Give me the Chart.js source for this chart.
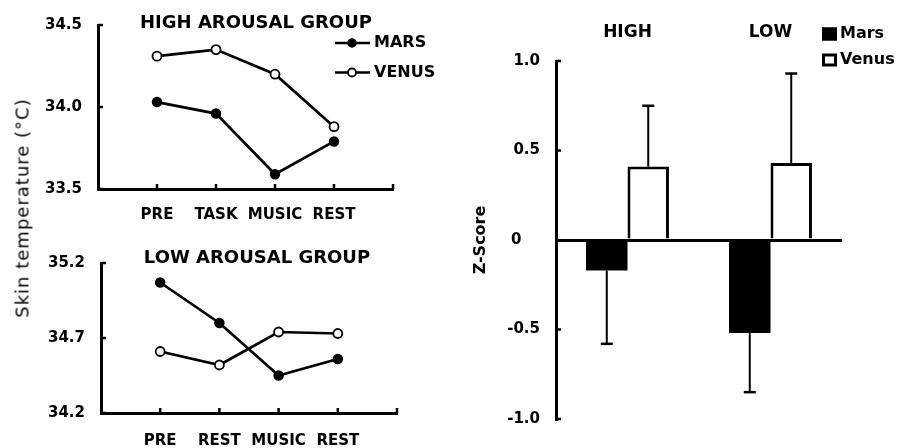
<!DOCTYPE html>
<html><head><meta charset="utf-8">
<script src="https://cdn.jsdelivr.net/npm/chart.js@4.4.1/dist/chart.umd.min.js"></script>
<style>
html,body{margin:0;padding:0;background:#fff;}
#wrap{position:relative;width:898px;height:448px;overflow:hidden;background:#fff;}
canvas{position:absolute;}
#ytitle{position:absolute;left:22px;top:208px;transform:translate(-50%,-50%) rotate(-90deg);white-space:nowrap;font:18px 'DejaVu Sans',sans-serif;letter-spacing:1px;color:#000;}
</style></head><body>
<div id="wrap">
<canvas id="cHigh" width="450" height="230" style="left:0;top:0;width:450px;height:230px"></canvas>
<canvas id="cLow" width="450" height="218" style="left:0;top:230px;width:450px;height:218px"></canvas>
<canvas id="cZ" width="448" height="448" style="left:450px;top:0;width:448px;height:448px"></canvas>
<div id="ytitle">Skin temperature (°C)</div>
</div>
<script>
// ---- data ----
const timeHigh = ['PRE', 'TASK', 'MUSIC', 'REST'];
const timeLow = ['PRE', 'REST', 'MUSIC', 'REST'];
const seriesUpper = ['MARS', 'VENUS'];
const seriesNames = ['Mars', 'Venus'];
const highMars = [34.03, 33.96, 33.59, 33.79];
const highVenus = [34.31, 34.35, 34.20, 33.88];
const lowMars = [35.07, 34.80, 34.45, 34.56];
const lowVenus = [34.61, 34.52, 34.74, 34.73];
const highTicks = [33.5, 34.0, 34.5];
const lowTicks = [34.2, 34.7, 35.2];
const groups = ['HIGH', 'LOW'];
const zMars = [-0.17, -0.52];
const zVenus = [0.41, 0.43];
const zMarsErr = [0.41, 0.33];
const zVenusErr = [0.34, 0.50];
const zTicks = [-1.0, -0.5, 0, 0.5, 1.0];

// ---- setup ----
const FAM = "'DejaVu Sans', sans-serif";
Chart.defaults.font.family = FAM;
Chart.defaults.color = '#000';
const BOLD = s => ({family: FAM, size: s, weight: 'bold'});

const inTicks = {
  id: 'inTicks',
  afterDraw(chart, args, o) {
    if (!o || !o.enabled) return;
    const ctx = chart.ctx, ca = chart.chartArea, len = o.len || 5;
    ctx.save(); ctx.strokeStyle = '#000'; ctx.lineWidth = o.width || 2.5;
    const ys = chart.scales.y;
    ys.ticks.forEach(t => {
      if (o.skipZero && t.value === 0) return;
      const p = ys.getPixelForValue(t.value);
      ctx.beginPath(); ctx.moveTo(ca.left, p); ctx.lineTo(ca.left + len, p); ctx.stroke();
    });
    if (o.xTicks) {
      const xs = chart.scales.x;
      xs.ticks.forEach((t, i) => {
        if (i === 0) return;
        const p = xs.getPixelForTick(i);
        ctx.beginPath(); ctx.moveTo(p, ca.bottom); ctx.lineTo(p, ca.bottom - len); ctx.stroke();
      });
    }
    ctx.restore();
  }
};

const panelText = {
  id: 'panelText',
  afterDraw(chart, args, o) {
    if (!o || !o.items) return;
    const ctx = chart.ctx; ctx.save(); ctx.fillStyle = '#000'; ctx.textBaseline = 'middle';
    o.items.forEach(it => {
      ctx.font = 'bold ' + it.size + 'px ' + FAM; ctx.textAlign = it.align || 'center';
      ctx.fillText(it.text, it.x, it.y);
    });
    ctx.restore();
  }
};

const keyLegend = {
  id: 'keyLegend',
  afterDraw(chart, args, o) {
    if (!o || !o.kind) return;
    const ctx = chart.ctx; ctx.save();
    chart.data.datasets.forEach((ds, i) => {
      const y = o.y + i * o.gap;
      ctx.strokeStyle = '#000'; ctx.fillStyle = '#000';
      if (o.kind === 'line') {
        ctx.lineWidth = ds.borderWidth;
        ctx.beginPath(); ctx.moveTo(o.x0, y); ctx.lineTo(o.x1, y); ctx.stroke();
        ctx.beginPath(); ctx.arc(o.xm, y, o.r, 0, Math.PI * 2);
        ctx.fillStyle = ds.pointBackgroundColor; ctx.fill();
        ctx.lineWidth = ds.pointBorderWidth; ctx.strokeStyle = ds.pointBorderColor; ctx.stroke();
      } else {
        const w = o.box[0], h = o.box[1];
        ctx.fillStyle = ds.backgroundColor; ctx.fillRect(o.x0, y - h / 2, w, h);
        ctx.lineWidth = o.bw; ctx.strokeStyle = '#000';
        ctx.strokeRect(o.x0 + o.bw / 2, y - h / 2 + o.bw / 2, w - o.bw, h - o.bw);
      }
      ctx.fillStyle = '#000'; ctx.font = 'bold ' + o.size + 'px ' + FAM;
      ctx.textAlign = 'left'; ctx.textBaseline = 'middle';
      ctx.fillText(ds.label, o.tx, y);
    });
    ctx.restore();
  }
};

const errBars = {
  id: 'errBars',
  afterDatasetsDraw(chart, args, o) {
    if (!o || !o.errors) return;
    const ctx = chart.ctx, ys = chart.scales.y;
    ctx.save(); ctx.strokeStyle = '#000';
    chart.data.datasets.forEach((ds, i) => {
      const errs = o.errors[i]; if (!errs) return;
      chart.getDatasetMeta(i).data.forEach((el, j) => {
        const v = ds.data[j], e = errs[j];
        const end = v + (v < 0 ? -e : e);
        const py = ys.getPixelForValue(end);
        ctx.lineWidth = o.width;
        ctx.beginPath(); ctx.moveTo(el.x, el.y); ctx.lineTo(el.x, py); ctx.stroke();
        ctx.lineWidth = o.capWidth;
        ctx.beginPath(); ctx.moveTo(el.x - o.cap / 2, py); ctx.lineTo(el.x + o.cap / 2, py); ctx.stroke();
      });
    });
    ctx.restore();
  }
};
Chart.register(inTicks, panelText, keyLegend, errBars);

function lineChart(id, cats, mars, venus, ticks, geo, title, legend) {
  const labels = ['', ...cats, ''];
  return new Chart(document.getElementById(id), {
    type: 'line',
    data: {labels, datasets: [
      {label: seriesUpper[0], data: [null, ...mars, null], borderColor: '#000', borderWidth: 2.7,
       pointRadius: 4.5, pointBackgroundColor: '#000', pointBorderColor: '#000', pointBorderWidth: 1.5, tension: 0},
      {label: seriesUpper[1], data: [null, ...venus, null], borderColor: '#000', borderWidth: 2.7,
       pointRadius: 4.5, pointBackgroundColor: '#fff', pointBorderColor: '#000', pointBorderWidth: 1.8, tension: 0}
    ]},
    options: {
      responsive: false, animation: false, devicePixelRatio: 1,
      layout: {padding: {left: 0, top: geo.top, right: geo.right, bottom: 0}},
      plugins: {
        legend: {display: false}, tooltip: {enabled: false},
        panelText: {items: [{text: title, x: geo.tx, y: geo.ty, size: 18}]},
        inTicks: {enabled: true, xTicks: true, len: 5},
        keyLegend: legend || {}
      },
      scales: {
        x: {type: 'category', offset: false,
            grid: {display: false, drawTicks: false},
            border: {display: true, color: '#000', width: 3},
            ticks: {font: BOLD(15), color: '#000', padding: geo.xpad, maxRotation: 0, autoSkip: false},
            afterFit: s => { s.height = geo.xh; }},
        y: {type: 'linear', min: ticks[0], max: ticks[ticks.length - 1],
            grid: {display: false, drawTicks: false},
            border: {display: true, color: '#000', width: 3},
            ticks: {font: BOLD(15), color: '#000', padding: 16, callback: v => Number(v).toFixed(1)},
            afterBuildTicks: s => { s.ticks = ticks.map(v => ({value: v})); },
            afterFit: s => { s.width = geo.yw; }}
      }
    }
  });
}

lineChart('cHigh', timeHigh, highMars, highVenus, highTicks,
  {top: 25, right: 57, yw: 98, xh: 41, xpad: 17, tx: 256, ty: 23},
  'HIGH AROUSAL GROUP',
  {kind: 'line', x0: 335, x1: 370, xm: 352, r: 4, y: 43, gap: 29.5, tx: 374, size: 16});

lineChart('cLow', timeLow, lowMars, lowVenus, lowTicks,
  {top: 33, right: 53, yw: 101, xh: 35, xpad: 19, tx: 257, ty: 28},
  'LOW AROUSAL GROUP', null);

new Chart(document.getElementById('cZ'), {
  type: 'bar',
  data: {labels: groups, datasets: [
    {label: seriesNames[0], data: zMars, backgroundColor: '#000', borderColor: '#000', borderWidth: 0},
    {label: seriesNames[1], data: zVenus, backgroundColor: '#fff', borderColor: '#000', borderWidth: 3}
  ]},
  options: {
    responsive: false, animation: false, devicePixelRatio: 1,
    layout: {padding: {left: 0, top: 0, right: 56, bottom: 29}},
    datasets: {bar: {barPercentage: 1, categoryPercentage: 0.58}},
    plugins: {
      legend: {display: false}, tooltip: {enabled: false},
      errBars: {errors: [zMarsErr, zVenusErr], width: 2, capWidth: 2.5, cap: 12},
      keyLegend: {kind: 'box', x0: 372, box: [15, 13], bw: 3, y: 34, gap: 26, tx: 390, size: 16},
      inTicks: {enabled: true, skipZero: true, len: 5}
    },
    scales: {
      x: {position: 'top', grid: {display: false, drawTicks: false}, border: {display: false},
          ticks: {font: BOLD(17), color: '#000', padding: 18},
          afterFit: s => { s.height = 61; }},
      y: {min: -1, max: 1,
          grid: {drawTicks: false, lineWidth: 3,
                 color: c => (c.tick && c.tick.value === 0) ? '#000' : 'rgba(0,0,0,0)'},
          border: {display: true, color: '#000', width: 3},
          ticks: {font: BOLD(15), color: '#000', padding: 16,
                  callback: v => v === 0 ? '0   \u2009' : Number(v).toFixed(1)},
          afterBuildTicks: s => { s.ticks = zTicks.map(v => ({value: v})); },
          title: {display: true, text: 'Z-Score', font: BOLD(16), color: '#000', padding: {top: 21, bottom: 0}},
          afterFit: s => { s.width = 106; }}
    }
  }
});
</script>
</body></html>
